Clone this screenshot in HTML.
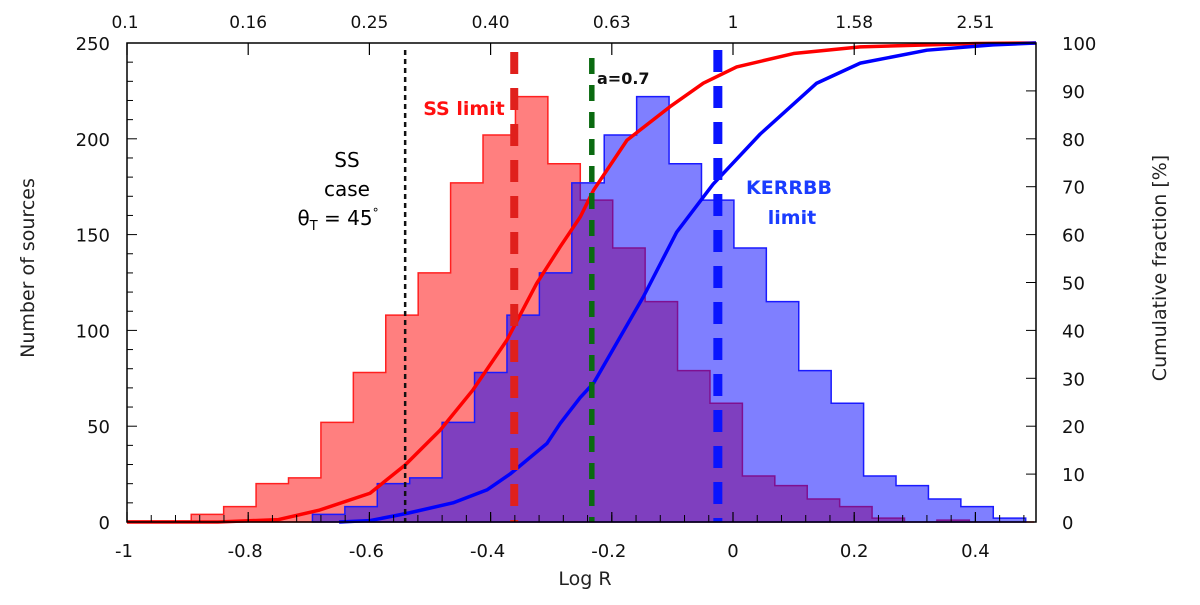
<!DOCTYPE html>
<html><head><meta charset="utf-8"><style>
body{margin:0;background:#fff;}
svg text{font-family:"DejaVu Sans","Liberation Sans",sans-serif;}
</style></head><body>
<svg id="c" width="1200" height="600" xmlns="http://www.w3.org/2000/svg">
<g id="hist"></g>
<g id="curves"></g>
<g id="vlines"></g>
<g id="axes"></g>
<text x="347" y="167" font-size="20" text-anchor="middle">SS</text>
<text x="347" y="196" font-size="20" text-anchor="middle">case</text>
<text x="338" y="225" font-size="20" text-anchor="middle">θ<tspan font-size="13" dy="5">T</tspan><tspan dy="-5"> = 45</tspan><tspan font-size="12" dy="-8">°</tspan></text>
<text x="464" y="115" font-size="19" font-weight="bold" fill="#ff1010" text-anchor="middle">SS limit</text>
<text x="597" y="84" font-size="16" font-weight="bold" fill="#111">a=0.7</text>
<text x="789" y="194" font-size="19" font-weight="bold" fill="#1a3cff" text-anchor="middle">KERRBB</text>
<text x="792" y="224" font-size="19" font-weight="bold" fill="#1a3cff" text-anchor="middle">limit</text>
<text x="585" y="585" font-size="19" text-anchor="middle" fill="#222">Log R</text>
<text transform="translate(34,268) rotate(-90)" font-size="19" text-anchor="middle" fill="#222">Number of sources</text>
<text transform="translate(1166,268) rotate(-90)" font-size="19" text-anchor="middle" fill="#222">Cumulative fraction [%]</text>
</svg>
<script>
const binStart = -0.894;
const binWidth = 0.0535;
const redCounts = [4,8,20,23,52,78,108,130,177,202,222,187,168,143,115,79,62,24,19,12,8,2,0,1,0,0];
const blueStart = -0.694;
const blueCounts = [4,8,20,23,52,78,108,130,177,202,222,187,168,143,115,79,62,24,19,12,8,2];
const redCumX = [-1,-0.85,-0.75,-0.682,-0.599,-0.541,-0.483,-0.429,-0.373,-0.324,-0.285,-0.252,-0.230,-0.175,-0.104,-0.049,0.006,0.100,0.210,0.402,0.5];
const redCumY = [0,0,0.5,2.5,6,11.9,19.2,27.6,38,49.8,57.5,63.7,69.3,79.7,86.7,91.6,95,97.8,99.2,99.9,100];
const blueCumX = [-0.65,-0.599,-0.538,-0.462,-0.406,-0.368,-0.307,-0.285,-0.252,-0.230,-0.148,-0.093,-0.033,0.045,0.138,0.210,0.320,0.429,0.5];
const blueCumY = [0,0.3,1.8,4,6.7,10,16.4,20.6,26,29,47,60.5,70.5,81,91.6,95.8,98.5,99.6,100];
const refX = [-0.541,-0.361,-0.233,-0.025];
const xTicks = [-1,-0.8,-0.6,-0.4,-0.2,0,0.2,0.4];
const xTickLabels = ["-1","-0.8","-0.6","-0.4","-0.2","0","0.2","0.4"];
const topLabels = ["0.1","0.16","0.25","0.40","0.63","1","1.58","2.51"];
const yTicks = [0,50,100,150,200,250];
const y2Ticks = [0,10,20,30,40,50,60,70,80,90,100];

const L=127,R=1036,T=43,B=522;
const X=v=>L+(v+1)/1.5*(R-L);
const Y=v=>B-v/250*(B-T);
const Y2=v=>B-v/100*(B-T);
const NS="http://www.w3.org/2000/svg";
function mk(tag,attrs,parent){const e=document.createElementNS(NS,tag);for(const k in attrs)e.setAttribute(k,attrs[k]);parent.appendChild(e);return e;}
const hist=document.getElementById('hist');
function histPath(start,counts){
  let d=`M${X(start)},${Y(0)}`;
  counts.forEach((c,i)=>{const x0=X(start+i*binWidth),x1=X(start+(i+1)*binWidth);d+=` L${x0},${Y(c)} L${x1},${Y(c)}`;});
  d+=` L${X(start+counts.length*binWidth)},${Y(0)} Z`;return d;
}
const rh=mk('path',{d:histPath(binStart,redCounts),fill:'rgba(255,0,0,0.5)',stroke:'#ff2020','stroke-width':1.5},hist);


const rb=mk('line',{x1:X(-1),x2:X(binStart),y1:Y(0)-1,y2:Y(0)-1,stroke:'#ff2020','stroke-width':1.5},hist);


const bh=mk('path',{d:histPath(blueStart,blueCounts),fill:'rgba(0,0,255,0.5)',stroke:'#1a1aff','stroke-width':1.5},hist);



const cur=document.getElementById('curves');
function line(xs,ys){return xs.map((x,i)=>`${i?'L':'M'}${X(x)},${Y2(ys[i])}`).join(' ');}
const rc=mk('path',{d:line(redCumX,redCumY),fill:'none',stroke:'#ff0000','stroke-width':3.5,'stroke-linejoin':'round'},cur);


const bc=mk('path',{d:line(blueCumX,blueCumY),fill:'none',stroke:'#0000ff','stroke-width':3.5,'stroke-linejoin':'round'},cur);



const vl=document.getElementById('vlines');
const vstyle=[{c:'#111',w:2.5,da:'5,4',top:50,n:'ss-case-line'},{c:'#e0201c',w:8,da:'22,14',top:52,n:'ss-limit-line'},{c:'#0a6a10',w:5.5,da:'16,11',top:58,n:'spin-line'},{c:'#0a14ff',w:9,da:'22,14',top:50,n:'kerrbb-limit-line'}];
refX.forEach((v,i)=>{const s=vstyle[i];
  const e=mk('line',{x1:X(v),x2:X(v),y1:s.top,y2:B,stroke:s.c,'stroke-width':s.w,'stroke-dasharray':s.da},vl);
  
  
});

const ax=document.getElementById('axes');
const fr=mk('rect',{x:L,y:T,width:R-L,height:B-T,fill:'none',stroke:'#000','stroke-width':1.5},ax);


for(let v=-1;v<=0.5001;v+=0.04){const e=mk('line',{x1:X(v),x2:X(v),y1:B,y2:B-7,stroke:'#000','stroke-width':1},ax);
  
  }
xTicks.forEach((v,i)=>{
  const t=mk('line',{x1:X(v),x2:X(v),y1:B,y2:B-10,stroke:'#000','stroke-width':1.2},ax);
  
  
  const tt=mk('line',{x1:X(v),x2:X(v),y1:T,y2:T+12,stroke:'#000','stroke-width':1.2},ax);
  
  
  const lb=mk('text',{x:X(v)-(v<0?3:0),y:557,'font-size':18,'text-anchor':'middle',fill:'#111'},ax);lb.textContent=xTickLabels[i];
  
  
  const tl=mk('text',{x:X(v)+(i==0?-2:0),y:28,'font-size':17,'text-anchor':'middle',fill:'#111','font-family':'Liberation Sans Narrow, Liberation Sans, sans-serif'},ax);
  tl.textContent=topLabels[i];
  
  
});
for(let v=0;v<=250;v+=10){const e=mk('line',{x1:L,x2:L+(v%50?6:10),y1:Y(v),y2:Y(v),stroke:'#000','stroke-width':1},ax);
  
  }
yTicks.forEach(v=>{const lb=mk('text',{x:110,y:Y(v)+7,'font-size':18,'text-anchor':'end',fill:'#111'},ax);lb.textContent=v;
  
  });
y2Ticks.forEach(v=>{const e=mk('line',{x1:R,x2:R-10,y1:Y2(v),y2:Y2(v),stroke:'#000','stroke-width':1},ax);
  
  
  const lb=mk('text',{x:1062,y:Y2(v)+7,'font-size':18,fill:'#111'},ax);lb.textContent=v;
  
  });
</script>
</body></html>
